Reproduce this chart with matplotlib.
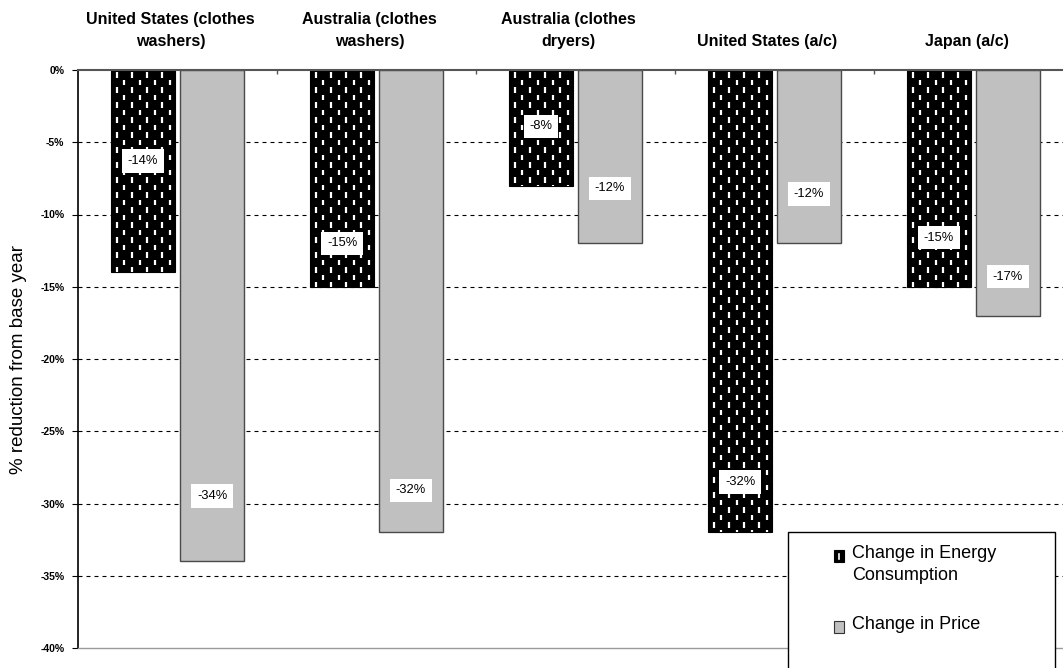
import numpy as np
import matplotlib
matplotlib.use("Agg")
import matplotlib.pyplot as plt
from matplotlib.patches import Rectangle
from matplotlib.lines import Line2D
from matplotlib.ticker import FuncFormatter

plt.rcParams['font.family'] = ['Liberation Sans', 'DejaVu Sans']

# ---- data -------------------------------------------------------------
categories = [
    'United States (clothes\nwashers)',
    'Australia (clothes\nwashers)',
    'Australia (clothes\ndryers)',
    'United States (a/c)',
    'Japan (a/c)',
]
energy_change = [-14, -15, -8, -32, -15]   # % change in energy consumption
price_change = [-34, -32, -12, -12, -17]   # % change in price
y_ticks = [0, -5, -10, -15, -20, -25, -30, -35, -40]
legend_labels = ['Change in Energy\nConsumption', 'Change in Price']

# vertical placement of the value boxes (data units)
energy_label_y = [-6.3, -12.0, -3.9, -28.5, -11.6]
price_label_y = [-29.5, -29.1, -8.2, -8.6, -14.3]

# ---- layout -----------------------------------------------------------
W, H = 1063, 668
fig = plt.figure(figsize=(W / 100, H / 100), dpi=100)
fig.patch.set_facecolor('white')

ax_left, ax_right, ax_top, ax_bottom = 78, 1073, 70, 648
ax = fig.add_axes([ax_left / W, 1 - ax_bottom / H,
                   (ax_right - ax_left) / W, (ax_bottom - ax_top) / H])

n = len(categories)
ax.set_xlim(-0.5, n - 0.5)
ax.set_ylim(min(y_ticks), 0)

# data units per pixel
sx = n / (ax_right - ax_left)
sy = (0 - min(y_ticks)) / (ax_bottom - ax_top)

bar_w = 64 * sx
offset = 34.5 * sx
x = np.arange(n)

GRAY = '#c0c0c0'

# dashed gridlines
for v in y_ticks[1:-1]:
    ax.axhline(v, color='black', lw=0.8, ls=(0, (3.6, 3.6)), zorder=1)

energy_bars = ax.bar(x - offset, energy_change, width=bar_w, color='black',
                     edgecolor='black', linewidth=0.8, zorder=3)
price_bars = ax.bar(x + offset, price_change, width=bar_w, color=GRAY,
                    edgecolor='#4a4a4a', linewidth=1.0, zorder=3)

# staggered white dash pattern on the energy bars
col_step, row_step, dash_len = 7.6, 15.0, 5.8
for bar in energy_bars:
    x0 = bar.get_x()
    x1 = x0 + bar.get_width()
    depth_px = abs(bar.get_height()) / sy
    xs, ymins, ymaxs = [], [], []
    k = 0
    while True:
        cx_px = 5.7 + k * col_step
        cx = x0 + cx_px * sx
        if cx > x1:
            break
        start = 2.0 + (k % 2) * row_step / 2 - row_step
        while start < depth_px:
            xs.append(cx)
            ymaxs.append(-start * sy)
            ymins.append(-(start + dash_len) * sy)
            start += row_step
        k += 1
    lc = ax.vlines(xs, ymins, ymaxs, colors='white', linewidth=1.6,
                   zorder=4)
    lc.set_capstyle('butt')
    lc.set_clip_path(bar)

# value boxes
box = dict(boxstyle='square,pad=0.45', fc='white', ec='none')
for i in range(n):
    ax.text(x[i] - offset, energy_label_y[i], f'{energy_change[i]}%',
            ha='center', va='center', fontsize=9.3, bbox=box, zorder=6)
    ax.text(x[i] + offset, price_label_y[i], f'{price_change[i]}%',
            ha='center', va='center', fontsize=9.3, bbox=box, zorder=6)

# category labels above the zero line
for i, cat in enumerate(categories):
    ax.annotate(cat, xy=(x[i], 0), xycoords='data',
                xytext=(-7, 21), textcoords='offset pixels',
                ha='center', va='bottom', multialignment='center',
                fontsize=11.5, fontweight='bold', linespacing=1.6,
                annotation_clip=False)

# category separators hanging from the zero line
ax.vlines(np.arange(n - 1) + 0.5, -4 * sy, 0, colors='#555555',
          linewidth=1.0, zorder=5)

# axes styling
ax.set_xticks([])
ax.set_yticks(y_ticks)
ax.yaxis.set_major_formatter(FuncFormatter(lambda v, p: f'{v:.0f}%'))
ax.tick_params(axis='y', direction='out', length=4.3, width=0.8,
               pad=5.5, labelsize=7.5, colors='black')
for lbl in ax.get_yticklabels():
    lbl.set_fontweight('bold')

ax.spines['left'].set_color('black')
ax.spines['left'].set_linewidth(1.2)
ax.spines['top'].set_color('#555555')
ax.spines['top'].set_linewidth(1.5)
ax.spines['top'].set_zorder(5)
ax.spines['bottom'].set_color('#9a9a9a')
ax.spines['bottom'].set_linewidth(1.0)
ax.spines['right'].set_visible(False)

ax.set_ylabel('% reduction from base year', fontsize=13.5, va='center')
ax.yaxis.set_label_coords((18.5 - ax_left) / (ax_right - ax_left), 0.5)


# ---- legend -----------------------------------------------------------
def fx(px):
    return px / W


def fy(py):
    return 1 - py / H


frame = Rectangle((fx(788), fy(720)), fx(1055) - fx(788), fy(532) - fy(720),
                  transform=fig.transFigure, fc='white', ec='black', lw=1.0,
                  zorder=20, clip_on=False)
ax.add_artist(frame)

sw = Rectangle((fx(834), fy(562)), fx(844) - fx(834), fy(550) - fy(562),
               transform=fig.transFigure, fc='black', ec='black', lw=0.8,
               zorder=21, clip_on=False)
ax.add_artist(sw)
ax.add_artist(Line2D([fx(839), fx(839)], [fy(553.5), fy(558.5)],
                     transform=fig.transFigure, color='white', lw=1.2,
                     zorder=22, clip_on=False))
sw2 = Rectangle((fx(834), fy(633)), fx(844) - fx(834), fy(621) - fy(633),
                transform=fig.transFigure, fc=GRAY, ec='#333333', lw=0.8,
                zorder=21, clip_on=False)
ax.add_artist(sw2)

fig.text(fx(852), fy(545), legend_labels[0], ha='left', va='top',
         fontsize=13, linespacing=1.35, zorder=22)
fig.text(fx(852), fy(616), legend_labels[1], ha='left', va='top',
         fontsize=13, zorder=22)

fig.savefig('out.png', dpi=100)
